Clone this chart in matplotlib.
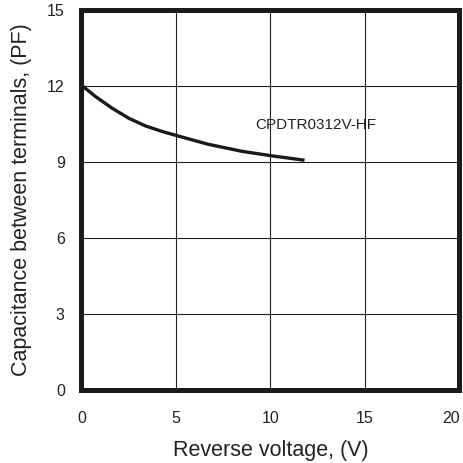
import matplotlib
matplotlib.use("Agg")
import matplotlib.pyplot as plt

voltage = [0, 0.75, 1.63, 2.52, 3.4, 4.29, 5.0, 6.7, 8.5, 10.1, 11.8]
capacitance = [12.03, 11.58, 11.12, 10.72, 10.42, 10.2, 10.05, 9.7, 9.42, 9.24, 9.07]
x_ticks = [0, 5, 10, 15, 20]
y_ticks = [0, 3, 6, 9, 12, 15]
series_label = "CPDTR0312V-HF"

plt.rcParams['font.family'] = ['Liberation Sans', 'DejaVu Sans']
fig = plt.figure(figsize=(4.64, 4.63), dpi=100)
ax = fig.add_axes([0.1756, 0.1577, 0.8147, 0.8207])
ax.plot(voltage, capacitance, color='#1a1a1a', lw=2.4, solid_capstyle='butt', solid_joinstyle='round')
ax.set_xlim(0, 20)
ax.set_ylim(0, 15)
ax.set_xticks(x_ticks)
ax.set_yticks(y_ticks)
ax.grid(True, color='#222222', lw=0.8)
ax.tick_params(length=0, labelsize=11.5, colors='#222222')
ax.tick_params(axis='x', pad=15)
ax.tick_params(axis='y', pad=12)
xl = ax.get_xticklabels()
xl[-1].set_horizontalalignment('right')
for s in ax.spines.values():
    s.set_linewidth(3.6)
    s.set_color('#1a1a1a')
ax.set_xlabel('Reverse voltage, (V)', fontsize=15.5, color='#222222', labelpad=10)
ax.set_ylabel('Capacitance between terminals, (PF)', fontsize=15.5, color='#222222', labelpad=11)
ax.text(9.2, 10.45, series_label, fontsize=11, color='#222222', va='center')
fig.savefig('out.png', dpi=100)
